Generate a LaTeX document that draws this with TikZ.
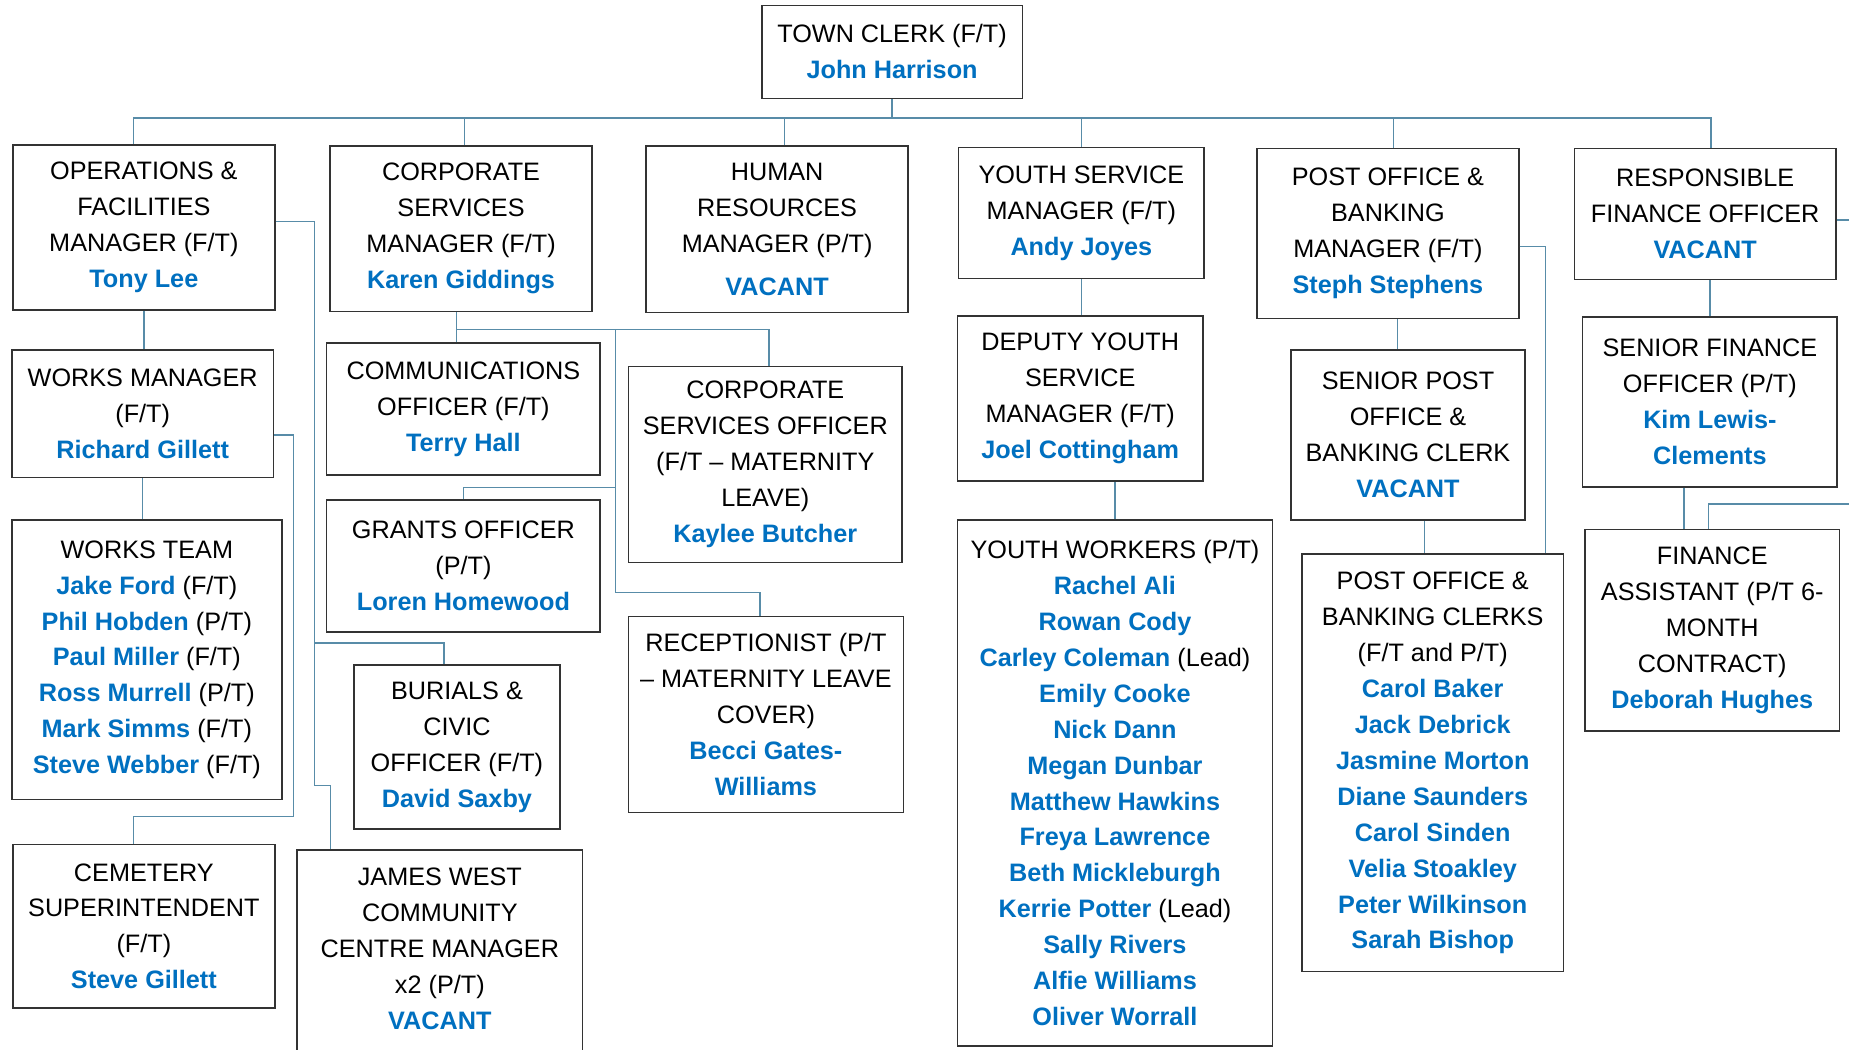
\documentclass[tikz,border=0pt]{standalone}
\usepackage{fontspec}
\setmainfont{Liberation Sans}
\usetikzlibrary{calc}

\definecolor{nameblue}{RGB}{0,112,192}
\definecolor{linkblue}{RGB}{88,140,168}
\newcommand{\pname}[1]{\textcolor{nameblue}{\bfseries #1}}

\begin{document}
\begin{tikzpicture}[x=1pt, y=-1pt]
    \tikzstyle{role} = [rectangle, draw=black!80, line width=1.3pt, fill=white,
        align=center, inner sep=0pt, font=\fontsize{21.4}{30.5}\selectfont]
    \tikzstyle{reportline} = [draw=linkblue, line width=1.1pt]

    \path[use as bounding box, fill=white] (0, 0) rectangle (1568, 890);
    \clip (0, 0) rectangle (1568, 890);

    % Top ----------------------------------------------
    \node (clerk) at (756.5, 44) [role, minimum width=221pt, minimum height=79pt]
        {TOWN CLERK (F/T)\\ \pname{John Harrison}};

    % Managers -----------------------------------------
    \node (ops) at (122, 193) [role, minimum width=222pt, minimum height=140pt]
        {OPERATIONS \&\\ FACILITIES\\ MANAGER (F/T)\\ \pname{Tony Lee}};
    \node (corp) at (391, 194) [role, minimum width=222pt, minimum height=140pt]
        {CORPORATE\\ SERVICES\\ MANAGER (F/T)\\ \pname{Karen Giddings}};
    \node (hr) at (659, 194.5) [role, minimum width=222pt, minimum height=141pt]
        {HUMAN\\ RESOURCES\\ MANAGER (P/T)\\[6pt] \pname{VACANT}};
    \node (youth) at (917, 180.5) [role, minimum width=208pt, minimum height=111pt]
        {YOUTH SERVICE\\ MANAGER (F/T)\\ \pname{Andy Joyes}};
    \node (post) at (1177, 198) [role, minimum width=222pt, minimum height=144pt]
        {POST OFFICE \&\\ BANKING\\ MANAGER (F/T)\\ \pname{Steph Stephens}};
    \node (rfo) at (1446, 181.5) [role, minimum width=222pt, minimum height=111pt]
        {RESPONSIBLE\\ FINANCE OFFICER\\ \pname{VACANT}};
    % ---------------------------------------------------

    % Operations
    \node (wm) at (121, 351) [role, minimum width=222pt, minimum height=108pt]
        {WORKS MANAGER\\ (F/T)\\ \pname{Richard Gillett}};
    \node (team) at (124.5, 559.5) [role, minimum width=229pt, minimum height=237pt]
        {WORKS TEAM\\ \pname{Jake Ford} (F/T)\\ \pname{Phil Hobden} (P/T)\\
        \pname{Paul Miller} (F/T)\\ \pname{Ross Murrell} (P/T)\\
        \pname{Mark Simms} (F/T)\\ \pname{Steve Webber} (F/T)};
    \node (cem) at (122, 785.5) [role, minimum width=222pt, minimum height=139pt]
        {CEMETERY\\ SUPERINTENDENT\\ (F/T)\\ \pname{Steve Gillett}};
    \node (burials) at (387.5, 633.5) [role, minimum width=175pt, minimum height=139pt]
        {BURIALS \&\\ CIVIC\\ OFFICER (F/T)\\ \pname{David Saxby}};
    \node (james) at (373, 813) [role, minimum width=242pt, minimum height=184pt]
        {JAMES WEST\\ COMMUNITY\\ CENTRE MANAGER\\ x2 (P/T)\\ \pname{VACANT}\\[-22pt] \strut};

    % Corporate services
    \node (comms) at (393, 347) [role, minimum width=232pt, minimum height=112pt]
        {COMMUNICATIONS\\ OFFICER (F/T)\\ \pname{Terry Hall}};
    \node (grants) at (393, 480) [role, minimum width=232pt, minimum height=112pt]
        {GRANTS OFFICER\\ (P/T)\\ \pname{Loren Homewood}};
    \node (cso) at (649, 394) [role, minimum width=232pt, minimum height=166pt]
        {CORPORATE\\ SERVICES OFFICER\\ (F/T – MATERNITY\\ LEAVE)\\ \pname{Kaylee Butcher}};
    \node (recep) at (649.5, 606) [role, minimum width=233pt, minimum height=166pt]
        {RECEPTIONIST (P/T\\ – MATERNITY LEAVE\\ COVER)\\ \pname{Becci Gates-}\\ \pname{Williams}};

    % Youth service
    \node (deputy) at (916, 338) [role, minimum width=208pt, minimum height=140pt]
        {DEPUTY YOUTH\\ SERVICE\\ MANAGER (F/T)\\ \pname{Joel Cottingham}};
    \node (yw) at (945.5, 664) [role, minimum width=267pt, minimum height=446pt]
        {YOUTH WORKERS (P/T)\\ \pname{Rachel Ali}\\ \pname{Rowan Cody}\\
        \pname{Carley Coleman} (Lead)\\ \pname{Emily Cooke}\\ \pname{Nick Dann}\\
        \pname{Megan Dunbar}\\ \pname{Matthew Hawkins}\\ \pname{Freya Lawrence}\\
        \pname{Beth Mickleburgh}\\ \pname{Kerrie Potter} (Lead)\\ \pname{Sally Rivers}\\
        \pname{Alfie Williams}\\ \pname{Oliver Worrall}};

    % Post office
    \node (spost) at (1194, 369) [role, minimum width=198pt, minimum height=144pt]
        {SENIOR POST\\ OFFICE \&\\ BANKING CLERK\\ \pname{VACANT}};
    \node (clerks) at (1215, 647) [role, minimum width=222pt, minimum height=354pt]
        {POST OFFICE \&\\ BANKING CLERKS\\ (F/T and P/T)\\ \pname{Carol Baker}\\
        \pname{Jack Debrick}\\ \pname{Jasmine Morton}\\ \pname{Diane Saunders}\\
        \pname{Carol Sinden}\\ \pname{Velia Stoakley}\\ \pname{Peter Wilkinson}\\
        \pname{Sarah Bishop}};

    % Finance
    \node (sfo) at (1450, 341) [role, minimum width=216pt, minimum height=144pt]
        {SENIOR FINANCE\\ OFFICER (P/T)\\ \pname{Kim Lewis-}\\ \pname{Clements}};
    \node (fa) at (1452, 534.5) [role, minimum width=216pt, minimum height=171pt]
        {FINANCE\\ ASSISTANT (P/T 6-\\ MONTH\\ CONTRACT)\\ \pname{Deborah Hughes}};


    % Lines from the town clerk -------------------------
    \coordinate (bus) at ($(clerk.south)+(0, 16)$);
    \draw[reportline] (clerk.south) -- (bus);
    \draw[reportline] (bus) -| ([xshift=-9pt]ops.north);
    \draw[reportline] (bus) -| ([xshift=3pt]corp.north);
    \draw[reportline] (bus) -| ([xshift=6pt]hr.north);
    \draw[reportline] (bus) -| (youth.north);
    \draw[reportline] (bus) -| ([xshift=5pt]post.north);
    \draw[reportline] (bus) -| ([xshift=5pt]rfo.north);

    % Operations lines
    \draw[reportline] (ops.south) -- (ops.south |- wm.north);
    \draw[reportline] (wm.south) -- (wm.south |- team.north);
    \coordinate (ops_rail) at ($(ops.east)+(33, -5)$);
    \draw[reportline] ([yshift=5pt]ops.east) -- (ops_rail)
        |- ($(burials.north)+(-11, -18)$) -- ($(burials.north)+(-11, 0)$);
    \draw[reportline] (ops_rail) |- ($(james.north west)+(29, -54)$)
        -- ($(james.north west)+(29, 0)$);
    \coordinate (wm_rail) at ($(wm.east)+(16, 18)$);
    \draw[reportline] ([yshift=-18pt]wm.east) -- (wm_rail)
        |- ($(cem.north)+(-9, -23)$) -- ($(cem.north)+(-9, 0)$);

    % Corporate services lines
    \coordinate (corp_drop) at ($(corp.south)+(-4, 0)$);
    \coordinate (corp_bus) at ($(corp.south)+(-4, 15)$);
    \draw[reportline] (corp_drop) -- (corp_bus) -- (corp_bus |- comms.north);
    \draw[reportline] (corp_bus) -| ([xshift=3pt]cso.north);
    \coordinate (corp_rail) at ($(corp_bus)+(135, 0)$);
    \draw[reportline] (corp_rail) |- ($(recep.north)+(-5, -20)$) -- ($(recep.north)+(-5, 0)$);
    \draw[reportline] (grants.north) -- ++(0, -10) -| (corp_rail);

    % Youth service lines
    \draw[reportline] (youth.south) -- (youth.south |- deputy.north);
    \draw[reportline] (yw.north) -- (yw.north |- deputy.south);

    % Post office lines
    \coordinate (post_drop) at ($(post.south)+(8, 0)$);
    \draw[reportline] (post_drop) -- (post_drop |- spost.north);
    \coordinate (spost_drop) at ($(spost.south)+(14, 0)$);
    \draw[reportline] (spost_drop) -- (spost_drop |- clerks.north);
    \draw[reportline] ([yshift=-11pt]post.east) -| ($(clerks.north east)+(-16, 0)$);

    % Finance lines
    \draw[reportline] (sfo.north) -- (sfo.north |- rfo.south);
    \coordinate (sfo_drop) at ($(sfo.south)+(-22, 0)$);
    \draw[reportline] (sfo_drop) -- (sfo_drop |- fa.north);
    \coordinate (rfo_out) at ($(rfo.east)+(30, 5)$);
    \draw[reportline] ([yshift=-5pt]rfo.east) -- (rfo_out);
    \coordinate (fa_out) at ($(fa.north)+(140, -21)$);
    \draw[reportline] ([xshift=-3pt]fa.north) |- (fa_out);
\end{tikzpicture}
\end{document}
